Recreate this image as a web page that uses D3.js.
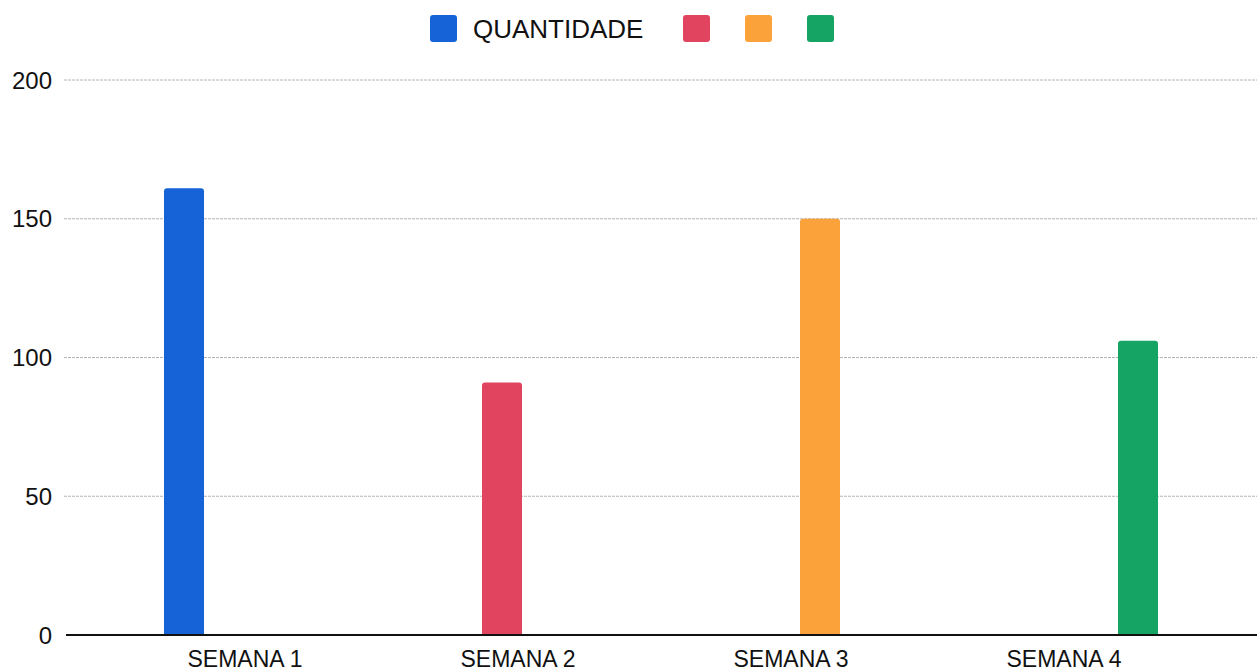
<!DOCTYPE html>
<html>
<head>
<meta charset="utf-8">
<script src="https://cdn.jsdelivr.net/npm/d3@7"></script>
<style>
  body { margin: 0; background: #fff; }
  svg { display: block; font-family: "Liberation Sans", Arial, sans-serif; }
</style>
</head>
<body>
<div id="chart"></div>
<script>
const weeks = ["SEMANA 1", "SEMANA 2", "SEMANA 3", "SEMANA 4"];
const quantidade = [161, 91, 150, 106];
const barColors = ["#1563d6", "#e0445f", "#fba23b", "#15a463"];
const legendLabels = ["QUANTIDADE", "", "", ""];
const yTicks = [0, 50, 100, 150, 200];

const width = 1257;
const height = 672;

const svg = d3
  .select("#chart")
  .append("svg")
  .attr("width", width)
  .attr("height", height);

const y = d3.scaleLinear().domain([0, 200]).range([635, 80]);

// bars and labels don't line up in the source, so two scales
const xBar = d3.scalePoint().domain(weeks).range([184, 1138]);
const xLabel = d3.scalePoint().domain(weeks).range([245, 1064]);
const barWidth = 40;

// gridlines
svg
  .append("g")
  .selectAll("line")
  .data(yTicks.filter((d) => d > 0))
  .join("line")
  .attr("x1", 64)
  .attr("x2", width)
  .attr("y1", (d) => y(d))
  .attr("y2", (d) => y(d))
  .attr("stroke", "#b4b4b4")
  .attr("stroke-width", 1)
  .attr("stroke-dasharray", "3,1");

// y tick labels
svg
  .append("g")
  .attr("font-size", 24)
  .attr("text-anchor", "end")
  .attr("fill", "#111")
  .selectAll("text")
  .data(yTicks)
  .join("text")
  .attr("x", 52)
  .attr("y", (d) => y(d))
  .attr("dy", "0.36em")
  .text((d) => d);

// bars
svg
  .append("g")
  .selectAll("path")
  .data(weeks)
  .join("path")
  .attr("fill", (d, i) => barColors[i])
  .attr("d", (d, i) => {
    const x0 = xBar(d) - barWidth / 2;
    const x1 = xBar(d) + barWidth / 2;
    const top = y(quantidade[i]);
    const bottom = y(0);
    const r = 3;
    return `M${x0},${bottom}V${top + r}Q${x0},${top} ${x0 + r},${top}H${x1 - r}Q${x1},${top} ${x1},${top + r}V${bottom}Z`;
  });

// baseline
svg
  .append("line")
  .attr("x1", 66)
  .attr("x2", width)
  .attr("y1", y(0))
  .attr("y2", y(0))
  .attr("stroke", "#111")
  .attr("stroke-width", 2);

// x labels
svg
  .append("g")
  .attr("font-size", 23)
  .attr("text-anchor", "middle")
  .attr("fill", "#111")
  .selectAll("text")
  .data(weeks)
  .join("text")
  .attr("x", (d) => xLabel(d))
  .attr("y", 667)
  .text((d) => d);

// legend
const legendX = [430, 683, 745, 807];
const legend = svg
  .append("g")
  .selectAll("g")
  .data(legendLabels)
  .join("g")
  .attr("transform", (d, i) => `translate(${legendX[i]},15)`);

legend
  .append("rect")
  .attr("width", 27)
  .attr("height", 27)
  .attr("rx", 3)
  .attr("fill", (d, i) => barColors[i]);

legend
  .append("text")
  .attr("x", 43)
  .attr("y", 23)
  .attr("font-size", 26)
  .attr("fill", "#111")
  .text((d) => d);
</script>
</body>
</html>
